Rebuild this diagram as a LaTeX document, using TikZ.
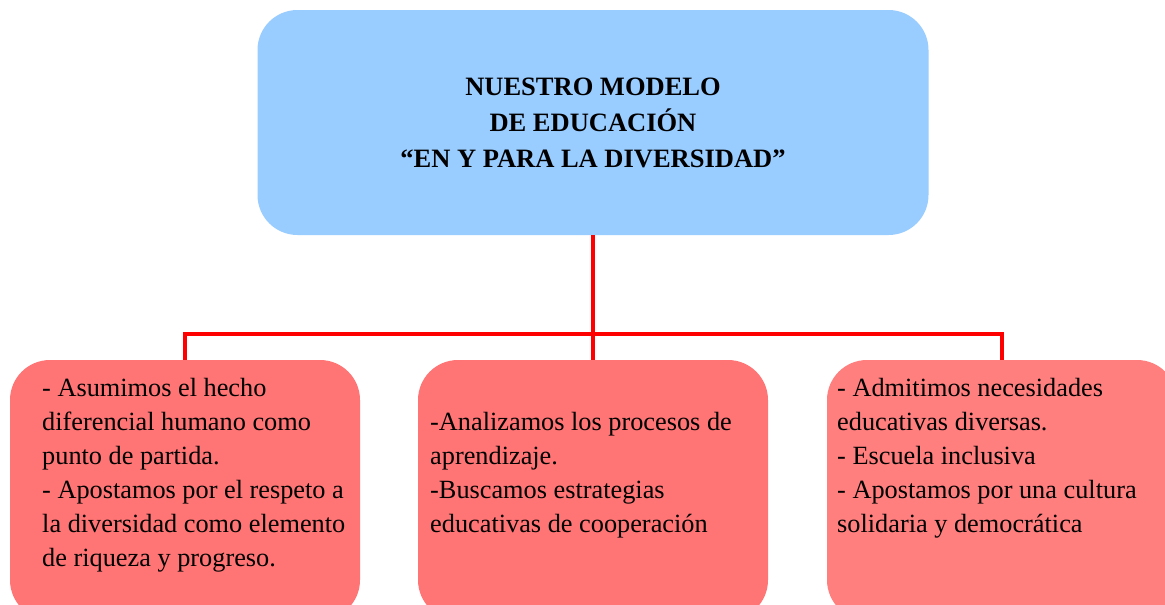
\documentclass[tikz,border=0pt]{standalone}
\usepackage{fontspec}
\setmainfont{Liberation Serif}
\definecolor{topblue}{RGB}{153,204,255}
\definecolor{boxred}{RGB}{255,117,117}
\definecolor{boxredlight}{RGB}{255,127,127}
\definecolor{linered}{RGB}{255,0,0}
\begin{document}
\begin{tikzpicture}[x=1pt,y=-1pt,
  boxshape/.style={rounded corners=40pt, minimum width=350pt, minimum height=260pt, inner sep=0pt, draw=none},
  bodytext/.style={anchor=north west, align=left, inner sep=0pt, font=\fontsize{26.3}{34}\selectfont},
  conn/.style={draw=linered, line width=4pt}]
\useasboundingbox (0,0) rectangle (1165,605);
\clip (0,0) rectangle (1165,605);
\fill[white] (0,0) rectangle (1165,605);
\node[rounded corners=40pt, fill=topblue, minimum width=671pt, minimum height=225pt, inner sep=0pt, align=center,
  font=\bfseries\fontsize{26.5}{36}\selectfont] (top) at (593,122.5)
  {NUESTRO MODELO\\ DE EDUCACIÓN\\ “EN Y PARA LA DIVERSIDAD”};
\node[boxshape, fill=boxred] (lbox) at (185,490) {};
\node[boxshape, fill=boxred] (mbox) at (593,490) {};
\node[boxshape, fill=boxredlight] (rbox) at (1002,490) {};
\coordinate (bar) at (593,334);
\draw[conn] (top.south) -- (mbox.north);
\draw[conn] (lbox.north) |- (bar) -| (rbox.north);
\node[bodytext] (ltext) at (42,378) {- Asumimos el hecho\\diferencial humano como\\punto de partida.\\- Apostamos por el respeto a\\la diversidad como elemento\\de riqueza y progreso.};
\node[bodytext] (mtext) at (430,412) {-Analizamos los procesos de\\aprendizaje.\\-Buscamos estrategias\\educativas de cooperación};
\node[bodytext] (rtext) at (837,378) {- Admitimos necesidades\\educativas diversas.\\- Escuela inclusiva\\- Apostamos por una cultura\\solidaria y democrática};
\end{tikzpicture}
\end{document}
